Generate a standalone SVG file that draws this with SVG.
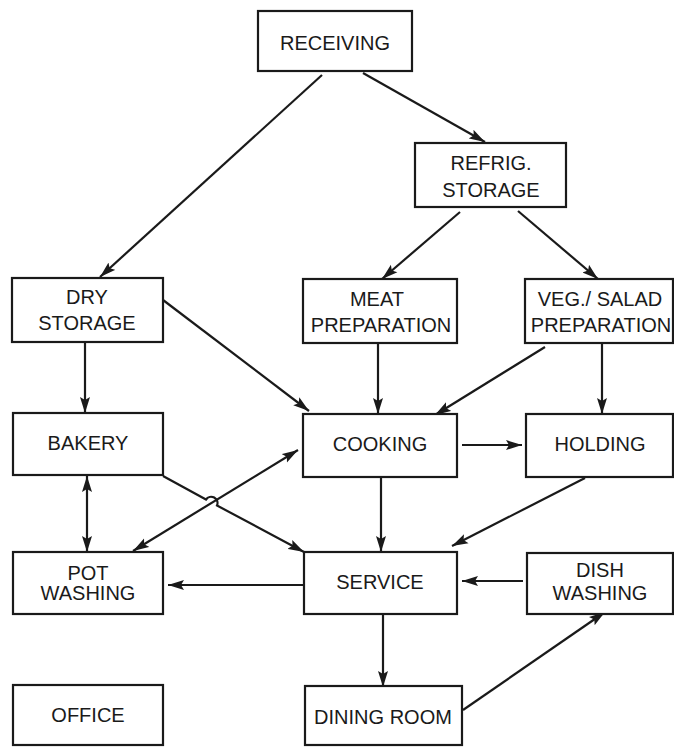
<svg xmlns="http://www.w3.org/2000/svg" width="674" height="747" viewBox="0 0 674 747">
<defs>
<marker id="ah" markerUnits="userSpaceOnUse" markerWidth="17" markerHeight="11" refX="16" refY="5.5" orient="auto-start-reverse">
<path d="M0,0.5 L16,5.5 L0,10.5 L3,5.5 z" fill="#1a1a1a"/>
</marker>
<style>
.box{fill:#fff;stroke:#1a1a1a;stroke-width:2.2}
.t{font-family:"Liberation Sans",Arial,sans-serif;font-size:20px;fill:#1a1a1a;text-anchor:middle}
.c{fill:none;stroke:#1a1a1a;stroke-width:2.2}
</style>
</defs>
<rect width="674" height="747" fill="#fff"/>
<g id="connectors">
<path class="c" marker-end="url(#ah)" d="M322,75 L100,277"/>
<path class="c" marker-end="url(#ah)" d="M363,73 L485,142"/>
<path class="c" marker-end="url(#ah)" d="M460,212 L382,279"/>
<path class="c" marker-end="url(#ah)" d="M518,211 L598,279"/>
<path class="c" marker-end="url(#ah)" d="M163,300 L309,411"/>
<path class="c" marker-end="url(#ah)" d="M85,342 L85,413"/>
<path class="c" marker-end="url(#ah)" d="M378,343 L378,414"/>
<path class="c" marker-end="url(#ah)" d="M545,347 L435,415"/>
<path class="c" marker-end="url(#ah)" d="M602,343 L602,414"/>
<path class="c" marker-end="url(#ah)" d="M462,445 L522,445"/>
<path class="c" marker-start="url(#ah)" marker-end="url(#ah)" d="M87,476 L87,552"/>
<path class="c" marker-start="url(#ah)" marker-end="url(#ah)" d="M133,551 L298,450"/>
<path class="c" marker-end="url(#ah)" d="M163,476 L206,499.5 A6.3,6.3 0 0 1 217,505.5 L304,552"/>
<path class="c" marker-end="url(#ah)" d="M381,477 L381,552"/>
<path class="c" marker-end="url(#ah)" d="M585,478 L452,546"/>
<path class="c" marker-end="url(#ah)" d="M303,585 L168,585"/>
<path class="c" marker-end="url(#ah)" d="M523,581 L462,581"/>
<path class="c" marker-end="url(#ah)" d="M383,614 L383,687"/>
<path class="c" marker-end="url(#ah)" d="M463,710 L605,612"/>
</g>
<g id="receiving"><rect class="box" x="258" y="11" width="154" height="60"/><text class="t" x="335" y="50">RECEIVING</text></g>
<g id="refrig-storage"><rect class="box" x="415" y="143" width="151" height="64"/><text class="t" x="491" y="170">REFRIG.</text><text class="t" x="491" y="197">STORAGE</text></g>
<g id="dry-storage"><rect class="box" x="12" y="278" width="151" height="64"/><text class="t" x="87" y="304">DRY</text><text class="t" x="87" y="330">STORAGE</text></g>
<g id="meat-preparation"><rect class="box" x="303" y="279" width="154" height="64"/><text class="t" x="377" y="306">MEAT</text><text class="t" x="381" y="332">PREPARATION</text></g>
<g id="veg-salad-preparation"><rect class="box" x="525" y="279" width="148" height="64"/><text class="t" x="600" y="306">VEG./ SALAD</text><text class="t" x="601" y="332">PREPARATION</text></g>
<g id="bakery"><rect class="box" x="13" y="413" width="150" height="62"/><text class="t" x="88" y="450">BAKERY</text></g>
<g id="cooking"><rect class="box" x="303" y="414" width="154" height="63"/><text class="t" x="380" y="451">COOKING</text></g>
<g id="holding"><rect class="box" x="526" y="414" width="147" height="63"/><text class="t" x="600" y="451">HOLDING</text></g>
<g id="pot-washing"><rect class="box" x="13" y="552" width="150" height="62"/><text class="t" x="88" y="580">POT</text><text class="t" x="88" y="600">WASHING</text></g>
<g id="service"><rect class="box" x="304" y="552" width="153" height="62"/><text class="t" x="380" y="589">SERVICE</text></g>
<g id="dish-washing"><rect class="box" x="527" y="553" width="146" height="61"/><text class="t" x="600" y="577">DISH</text><text class="t" x="600" y="600">WASHING</text></g>
<g id="office"><rect class="box" x="13" y="685" width="150" height="60"/><text class="t" x="88" y="722">OFFICE</text></g>
<g id="dining-room"><rect class="box" x="305" y="686" width="157" height="59"/><text class="t" x="383" y="724">DINING ROOM</text></g>
</svg>
